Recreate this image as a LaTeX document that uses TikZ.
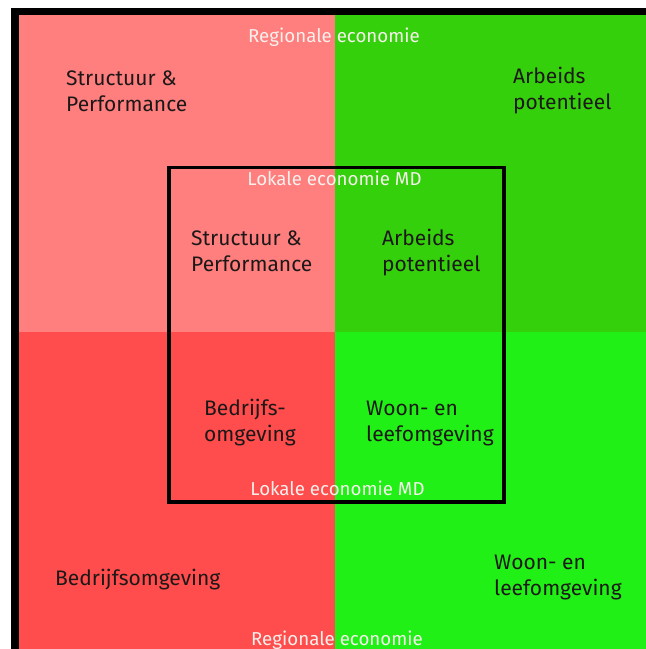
\documentclass[tikz,border=0pt]{standalone}
\usepackage{fontspec}
\setmainfont{Fira Sans}
\definecolor{salmon}{RGB}{255,126,126}
\definecolor{redq}{RGB}{255,76,76}
\definecolor{greenq}{RGB}{52,208,12}
\definecolor{limeq}{RGB}{32,240,22}
\definecolor{ink}{RGB}{28,24,24}
\definecolor{paleink}{RGB}{246,240,236}
\tikzset{
  lbl/.style={anchor=base west, inner sep=0pt, text=ink, font=\fontsize{21}{26}\selectfont, align=left},
  ecolbl/.style={anchor=base, inner sep=0pt, text=paleink, font=\fontsize{18.7}{20}\selectfont}
}
\begin{document}
\begin{tikzpicture}[x=1pt,y=-1pt]
\useasboundingbox (0,0) rectangle (646,649);
\fill[white] (0,0) rectangle (646,649);
% four quadrants
\fill[salmon] (19,15) rectangle (335,332);
\fill[redq]   (19,332) rectangle (335,649);
\fill[greenq] (335,15) rectangle (646,332);
\fill[limeq]  (335,332) rectangle (646,649);
% outer frame: top and left edges only
\fill[black] (11,8) rectangle (646,15);
\fill[black] (11,8) rectangle (19,649);
% inner square
\node[draw=black, line width=3.5pt, minimum width=335pt, minimum height=334.5pt, inner sep=0pt, anchor=north west] (inner) at (167,165.5) {};
% regional labels (multi-line nodes sit on the baseline of their last line)
\node[ecolbl] (regtop) at (334,42) {Regionale economie};
\node[ecolbl] (regbot) at (337,645) {Regionale economie};
\node[lbl] (sp) at (66,111) {Structuur \&\\Performance};
\node[lbl] (ap) at (513,109) {Arbeids\\potentieel};
\node[lbl] (bo) at (55,585) {Bedrijfsomgeving};
\node[lbl] (wl) at (494,595) {Woon- en\\leefomgeving};
% local labels
\node[ecolbl] (loctop) at (334.5,185) {Lokale economie MD};
\node[ecolbl] (locbot) at (337.5,495) {Lokale economie MD};
\node[lbl] (isp) at (191,271) {Structuur \&\\Performance};
\node[lbl] (iap) at (382,271) {Arbeids\\potentieel};
\node[lbl] (ibo) at (204,441) {Bedrijfs-\\omgeving};
\node[lbl] (iwl) at (366,441) {Woon- en\\leefomgeving};
\end{tikzpicture}
\end{document}
